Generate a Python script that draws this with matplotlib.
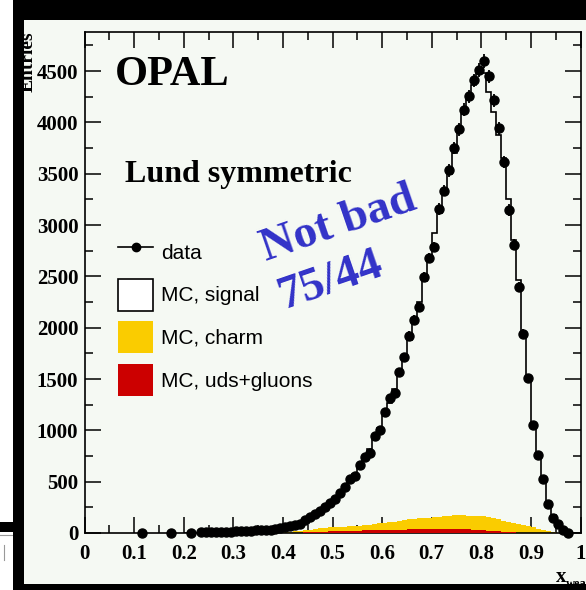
import numpy as np
import matplotlib
matplotlib.use('Agg')
import matplotlib.pyplot as plt
from matplotlib.patches import Rectangle, FancyBboxPatch, Patch
from matplotlib.lines import Line2D
from matplotlib.ticker import MultipleLocator, FuncFormatter

# --- data points (bins of width 0.01, value at bin centre) ---
sparse_x = [0.115, 0.175, 0.215]
sparse_y = [3, 3, 4]
data_first_bin = 23   # bin 0.23-0.24
data_y = [5, 6, 7, 9, 10, 12, 14, 16, 18, 20,
          22, 25, 27, 30, 34, 40, 50, 61, 71, 75,
          88, 127, 153, 185, 217, 256, 289, 331, 387, 445,
          526, 558, 663, 738, 783, 945, 1004, 1182, 1313, 1362,
          1572, 1712, 1920, 2076, 2200, 2492, 2677, 2785, 3155, 3336,
          3531, 3749, 3934, 4123, 4252, 4408, 4513, 4594, 4447, 4213,
          3944, 3613, 3148, 2807, 2395, 1939, 1508, 1053, 760, 523,
          283, 143, 88, 29, 3]

# --- MC total (signal + background), bins from 0.20 to 1.00 ---
mc_lo = 0.20
mc_total = [2, 3, 4, 5, 6, 7, 9, 10, 12, 14,
            16, 18, 21, 24, 27, 31, 35, 40, 46, 54,
            65, 72, 80, 95, 120, 150, 180, 215, 255, 295,
            340, 390, 450, 510, 575, 650, 735, 820, 915, 1020,
            1140, 1265, 1400, 1550, 1710, 1880, 2060, 2250, 2450, 2650,
            2920, 3120, 3310, 3500, 3700, 3900, 4080, 4230, 4360, 4480,
            4480, 4300, 4100, 3880, 3650, 3250, 2850, 2460, 1960, 1520,
            1070, 780, 550, 305, 175, 50, 12, 3, 0, 0]

# --- backgrounds, bins from 0.40 to 0.96 ---
bg_lo = 0.40
mc_uds = [1, 2, 3, 4, 5, 8, 10, 12, 14, 16,
          18, 20, 21, 22, 23, 24, 25, 26, 27, 28,
          30, 31, 32, 33, 34, 36, 38, 40, 41, 42,
          43, 42, 41, 43, 40, 38, 37, 36, 34, 31,
          28, 24, 20, 16, 12, 9, 6, 3, 1, 0,
          0, 0, 0, 0, 0, 0]
mc_charm = [7, 10, 13, 16, 21, 24, 28, 32, 36, 39,
            40, 40, 41, 43, 44, 46, 49, 54, 61, 67,
            70, 75, 80, 87, 92, 96, 100, 103, 106, 108,
            112, 118, 122, 125, 132, 138, 137, 134, 134, 135,
            135, 131, 125, 116, 108, 101, 92, 85, 77, 66,
            54, 40, 28, 16, 7, 2]

legend_labels = ['data', 'MC, signal', 'MC, charm', 'MC, uds+gluons']

W, H = 586, 590
def fx(px):
    return px / W
def fy(py):
    return 1 - py / H

plt.rcParams['font.family'] = 'Liberation Serif'
plt.rcParams['font.weight'] = 'bold'

bg = '#f5f9f3'
yellow = '#facc00'
red = '#cc0000'
blue = '#3232c8'

fig = plt.figure(figsize=(W / 100, H / 100), dpi=100, facecolor='white')

# slide frame (underneath)
fig.patches.append(FancyBboxPatch((fx(13), fy(700)), fx(800), 1.5,
                                  boxstyle='round,pad=0,rounding_size=0.02',
                                  transform=fig.transFigure, facecolor='black',
                                  edgecolor='none', zorder=-2))
fig.patches.append(Rectangle((fx(24), fy(584)), fx(600), fy(20) - fy(584),
                             transform=fig.transFigure, facecolor=bg,
                             edgecolor='none', zorder=-1))

ax = fig.add_axes([fx(84.5), fy(533), (580.5 - 84.5) / W, (533 - 32) / H])
ax.set_facecolor(bg)

# MC histograms
bg_edges = np.round(bg_lo + 0.01 * np.arange(len(mc_uds) + 1), 2)
uds = np.array(mc_uds)
charm = np.array(mc_charm)
ax.stairs(uds + charm, bg_edges, fill=True, color=yellow, zorder=2)
ax.stairs(uds, bg_edges, fill=True, color=red, zorder=3)

mc_edges = np.round(mc_lo + 0.01 * np.arange(len(mc_total) + 1), 2)
ax.stairs(mc_total, mc_edges, color='black', lw=1.2, zorder=4)

# data
dy = np.array(data_y)
dx = (data_first_bin + np.arange(len(dy))) * 0.01 + 0.005
x_all = np.concatenate([sparse_x, dx])
y_all = np.concatenate([sparse_y, dy])
ax.errorbar(x_all, y_all, yerr=np.sqrt(y_all), fmt='o', color='black',
            ms=6.5, elinewidth=1.3, capsize=0, zorder=6, clip_on=False)

ax.set_xlim(0, 1)
ax.set_ylim(0, 4880)
ax.xaxis.set_major_locator(MultipleLocator(0.1))
ax.xaxis.set_minor_locator(MultipleLocator(0.05))
ax.yaxis.set_major_locator(MultipleLocator(500))
ax.yaxis.set_minor_locator(MultipleLocator(250))
ax.xaxis.set_major_formatter(FuncFormatter(lambda v, p: '%g' % round(v, 2)))
ax.tick_params(which='both', direction='in', top=True, right=True,
               width=1.1, labelsize=15)
ax.tick_params(which='major', length=11.5)
ax.tick_params(which='minor', length=5.5)
ax.tick_params(axis='x', pad=8)
ax.tick_params(axis='y', pad=4.5)
for s in ax.spines.values():
    s.set_linewidth(1.2)

# legend
handles = [Line2D([], [], color='black', marker='o', ms=6, lw=1.2),
           Patch(facecolor='white', edgecolor='black', lw=1.2),
           Patch(facecolor=yellow, edgecolor='none'),
           Patch(facecolor=red, edgecolor='none')]
ax.legend(handles, legend_labels, loc='upper left',
          bbox_to_anchor=((118 - 84.5) / 496, (533 - 236) / 501),
          frameon=False, borderpad=0, borderaxespad=0,
          handlelength=1.7, handleheight=2.0, labelspacing=0.5,
          handletextpad=0.35,
          prop={'family': 'Liberation Sans', 'size': 15, 'weight': 'normal'})

# texts
ax.text(0.0615, 4363, 'OPAL', fontsize=30.5, ha='left', va='baseline')
ax.text(0.0817, 3419, 'Lund symmetric', fontsize=23, ha='left', va='baseline')
ax.text(0.512, 3010, 'Not bad', fontsize=34, color=blue, rotation=19,
        ha='center', va='center', rotation_mode='anchor')
ax.text(0.497, 2450, '75/44', fontsize=34, color=blue, rotation=19,
        ha='center', va='center', rotation_mode='anchor')

fig.text(fx(37), fy(31), 'Entries', rotation=90, ha='right', va='top', fontsize=14)
fig.text(fx(556), fy(582), 'x', fontsize=15, ha='left', va='baseline')
fig.text(fx(566), fy(587), 'weak', fontsize=9, ha='left', va='baseline')

# frame strips on top
for x0, y0, x1, y1 in [(13, 22, 24, 600), (22, 8, 600, 20), (13, 584, 600, 600),
                       (0, 522, 13, 532)]:
    fig.patches.append(Rectangle((fx(x0), fy(y1)), fx(x1) - fx(x0), fy(y0) - fy(y1),
                                 transform=fig.transFigure, facecolor='black',
                                 edgecolor='none', zorder=10))
fig.add_artist(Line2D([0, fx(13)], [fy(534.5), fy(534.5)], color='#999999',
                      lw=0.8, transform=fig.transFigure, zorder=10))
fig.add_artist(Line2D([fx(4), fx(4)], [fy(545), fy(560)], color='#999999',
                      lw=0.8, transform=fig.transFigure, zorder=10))

fig.savefig('out.png', dpi=100, facecolor='white')
